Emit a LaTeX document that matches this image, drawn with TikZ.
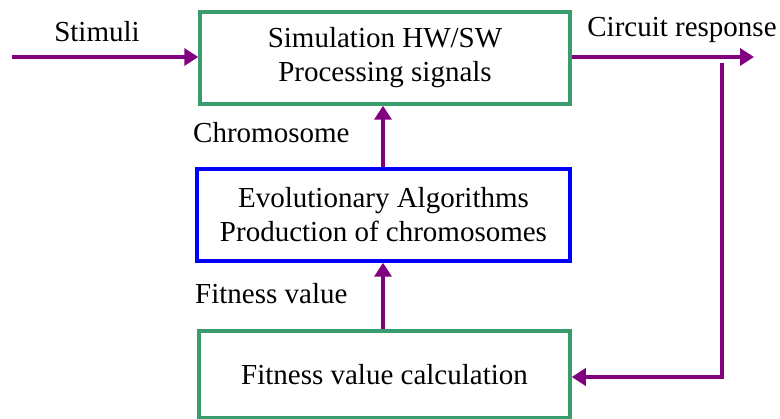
\documentclass[tikz,border=0pt]{standalone}
\usepackage{fontspec}
\setmainfont{Liberation Serif}
\usetikzlibrary{arrows.meta}
\definecolor{boxgreen}{HTML}{3A9B6C}
\definecolor{flowpurple}{HTML}{800080}
\definecolor{boxblue}{HTML}{0000FF}
\begin{document}
\begin{tikzpicture}[x=1pt,y=-1pt,
  every node/.style={font=\fontsize{29}{34}\selectfont},
  block/.style={draw, line width=3.5pt, align=center, inner sep=0pt},
  flow/.style={draw=flowpurple, line width=4pt,
    -{Triangle[length=14pt,width=17pt]}, color=flowpurple},
  link/.style={draw=flowpurple, line width=4pt},
  tag/.style={inner sep=0pt}]
\useasboundingbox (0,0) rectangle (780,419);

% processing blocks
\node[block, draw=boxgreen, minimum width=370pt, minimum height=92pt]
  (sim) at (385,58) {Simulation HW/SW\\Processing signals};
\node[block, draw=boxblue, minimum width=373pt, minimum height=92pt]
  (ea) at (383.5,215) {Evolutionary Algorithms\\Production of chromosomes};
\node[block, draw=boxgreen, minimum width=371pt, minimum height=87pt]
  (fit) at (384.5,374.5) {Fitness value calculation};

% free ends of the outer connectors
\coordinate (in) at (12,57);
\coordinate (out) at (754,57);
\coordinate (down) at (722,63);
\coordinate (corner) at (722,377);

% connectors
\draw[flow] (in) -- (sim.west |- in);
\draw[flow] (sim.east |- out) -- (out);
\draw[link, line join=miter] (down) -- (corner) -- ++(-20,0);
\draw[flow] (corner) -- (fit.east |- corner);
\draw[flow] (ea.north -| 383,0) -- (sim.south -| 383,0);
\draw[flow] (fit.north -| 383,0) -- (ea.south -| 383,0);

% labels
\node[tag] (stim) at (97,32) {Stimuli};
\node[tag] (resp) at (682,30) {Circuit response};
\node[tag, anchor=west] (chrom) at (193,133) {Chromosome};
\node[tag, anchor=west] (fval) at (195,294) {Fitness value};
\end{tikzpicture}
\end{document}
